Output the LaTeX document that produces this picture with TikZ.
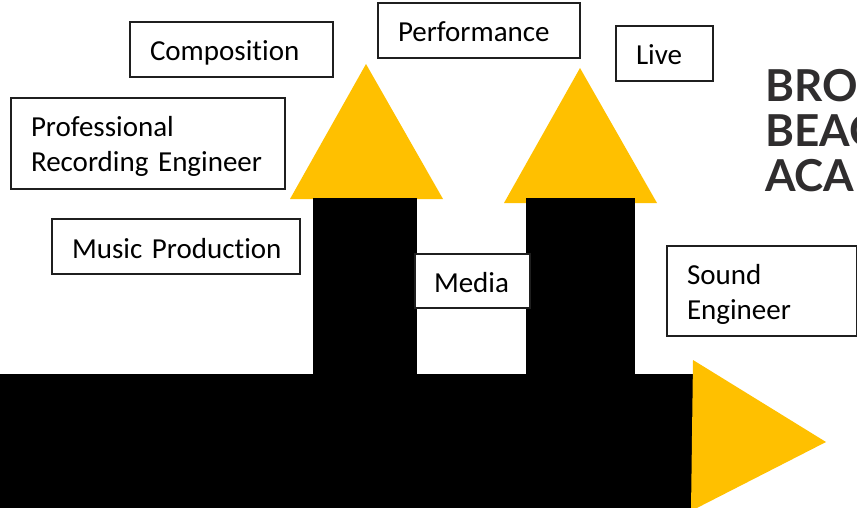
\documentclass[tikz,border=0pt]{standalone}
\usepackage{fontspec}
\setmainfont[Ligatures=NoCommon]{Carlito}
\newfontfamily\logofont{Lato}
\definecolor{gold}{HTML}{FFC000}
\definecolor{logogray}{HTML}{2F2D2E}
\tikzset{
    labelbox/.style={draw=black!88,fill=white,line width=2pt,anchor=north west,inner ysep=0pt,inner xsep=20pt,outer sep=0pt,align=left,font=\fontsize{29}{35}\selectfont},
    oneline/.style={labelbox,execute at begin node={\rule[-7pt]{0pt}{37pt}}},
    twolines/.style={labelbox,execute at begin node={\rule[-7pt]{0pt}{33pt}}},
    arrowhead/.style={fill=gold},
    bar/.style={fill=black}
}
\begin{document}
\begin{tikzpicture}[x=1pt,y=-1pt]
    \useasboundingbox (0,0) rectangle (857,508);
    \clip (0,0) rectangle (857,508);

    \fill[arrowhead] (366,64) -- (443,199) -- (290,199) -- cycle;
    \fill[arrowhead] (580,68) -- (657,203) -- (504,203) -- cycle;

    \fill[bar] (0,374) rectangle (693,508);
    \fill[bar] (313,198) rectangle (417,375);
    \fill[bar] (526,198) rectangle (635,375);

    \fill[arrowhead] (693,360) -- (826,442) -- (691,511) -- cycle;

    \node[oneline,minimum height=55pt,text width=163pt] at (130,22) (composition) {Composition};
    \node[oneline,minimum height=55pt,text width=162pt] at (378,3) (performance) {Performance};
    \node[oneline,minimum height=55pt,text width=57pt] at (616,26) (live) {Live};
    \node[twolines,minimum height=91pt,text width=234pt] at (11,98) (recording) {Professional\\Recording Engineer};
    \node[oneline,minimum height=55pt,text width=208pt] at (52,219) (production) {\mbox{Music Production}};
    \node[oneline,minimum height=54pt,text width=77pt,inner xsep=19pt] at (415,254) (media) {Media};
    \node[twolines,minimum height=90pt,text width=150pt] at (667,246) (sound) {Sound\\Engineer};

    \node[anchor=north west,inner sep=0pt,align=left,text=logogray,font=\logofont\bfseries\fontsize{44}{45}\selectfont] at (765,69) (logo) {BRO\\BEAC\\ACA};
\end{tikzpicture}
\end{document}
